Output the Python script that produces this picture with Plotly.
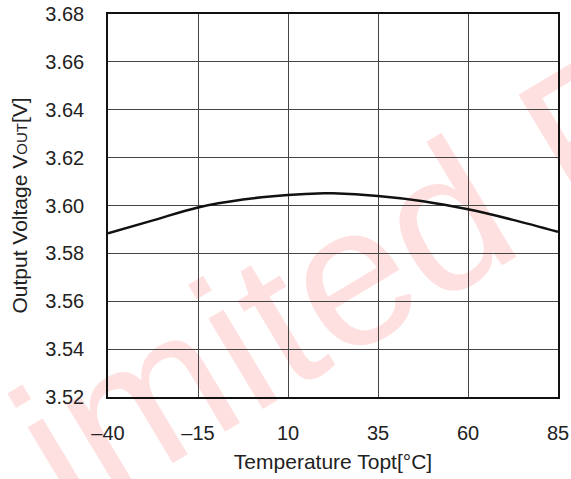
import plotly.graph_objects as go

temps = [-40, -27.5, -15, -2.5, 10, 20, 22.5, 35, 47.5, 60, 72.5, 85]
vout = [3.5884, 3.5938, 3.5992, 3.6025, 3.6044, 3.6051, 3.6051, 3.6040, 3.6018, 3.5984, 3.5940, 3.5890]

x_ticks = [-40, -15, 10, 35, 60, 85]
x_tick_labels = ["–40", "–15", "10", "35", "60", "85"]
y_ticks = [3.52, 3.54, 3.56, 3.58, 3.60, 3.62, 3.64, 3.66, 3.68]
y_tick_labels = ["3.52", "3.54", "3.56", "3.58", "3.60", "3.62", "3.64", "3.66", "3.68"]

FONT = "Liberation Sans, Arial, sans-serif"

fig = go.Figure()
fig.add_trace(go.Scatter(x=temps, y=vout, mode="lines", line=dict(color="#111111", width=2.5, shape="spline", smoothing=1.0),
                         showlegend=False))

fig.add_shape(type="rect", xref="paper", yref="paper", x0=-0.55, x1=1.45, y0=-0.587, y1=1.213,
              line=dict(width=0), fillcolor="rgba(0,0,0,0)", layer="below",
              label=dict(text="Limited Fr", textangle=-31, textposition="middle center",
                         font=dict(family=FONT, size=200, color="rgba(255,0,0,0.12)")))

fig.update_layout(
    width=571, height=479,
    margin=dict(l=108, r=13, t=14, b=82),
    paper_bgcolor="white", plot_bgcolor="rgba(0,0,0,0)",
    font=dict(family=FONT, size=20, color="#222222"),
)
fig.update_xaxes(range=[-40, 85], tickvals=x_ticks, ticktext=x_tick_labels,
                 showgrid=True, gridcolor="#444444", gridwidth=1,
                 showline=True, linecolor="#111111", linewidth=1.5, mirror=True,
                 ticks="", ticklen=0, zeroline=False, automargin=False,
                 ticklabelstandoff=17,
                 tickfont=dict(size=20),
                 title=dict(text="Temperature Topt[°C]", font=dict(size=21), standoff=12))
fig.update_yaxes(range=[3.52, 3.68], tickvals=y_ticks, ticktext=y_tick_labels,
                 showgrid=True, gridcolor="#444444", gridwidth=1,
                 showline=True, linecolor="#111111", linewidth=1.5, mirror=True,
                 ticks="", ticklen=0, zeroline=False, automargin=False,
                 ticklabelstandoff=18,
                 tickfont=dict(size=20),
                 title=dict(text="Output Voltage V<span style='font-size:15px'>OUT</span>[V]", font=dict(size=21), standoff=12))

fig.write_html("out.html")
